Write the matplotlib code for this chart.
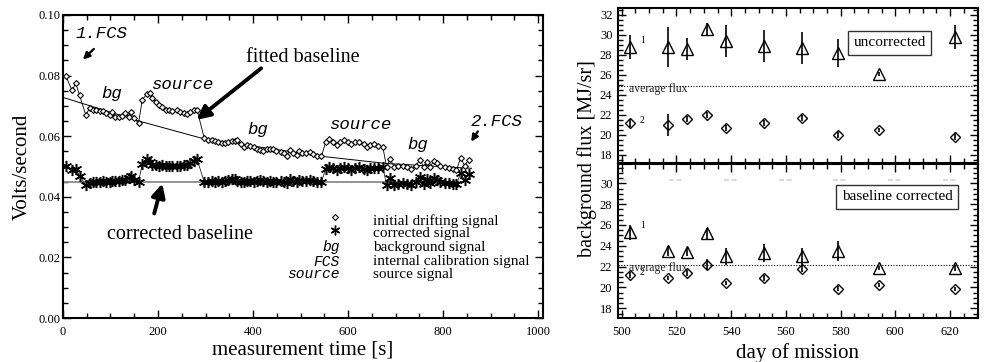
import numpy as np
import matplotlib.pyplot as plt
from matplotlib.ticker import MultipleLocator

plt.rcParams['font.family'] = 'Liberation Serif'

# ---- left panel: one measurement, drift correction ----
time_s = [6, 19, 27, 35, 48, 56, 63, 70, 77, 84, 91, 98, 104, 110, 117, 124, 131, 138, 143, 150,
          159, 167, 176, 183, 188, 195, 202, 209, 216, 223, 230, 240, 247, 254, 261, 268, 275, 282,
          297, 306, 313, 320, 327, 334, 341, 348, 355, 362, 367, 374, 381, 387, 394, 401, 408, 415,
          422, 429, 436, 442, 449, 458, 466, 471, 478, 485, 492, 497, 504, 511, 520, 527, 535, 544,
          553, 560, 569, 577, 584, 592, 599, 606, 615, 624, 633, 640, 647, 655, 664, 673,
          681, 688, 697, 705, 715, 724, 733, 742, 752, 759, 766, 773, 780, 787, 794, 803, 812, 820,
          828, 837, 845, 854]
initial_signal = [0.0799, 0.0751, 0.0774, 0.0735, 0.0670, 0.0692, 0.0688, 0.0686, 0.0683, 0.0684,
                  0.0676, 0.0670, 0.0681, 0.0665, 0.0663, 0.0667, 0.0676, 0.0665, 0.0681, 0.0659,
                  0.0643, 0.0721, 0.0738, 0.0742, 0.0727, 0.0713, 0.0702, 0.0697, 0.0688, 0.0686,
                  0.0684, 0.0688, 0.0681, 0.0676, 0.0673, 0.0681, 0.0686, 0.0688,
                  0.0595, 0.0589, 0.0587, 0.0584, 0.0581, 0.0576, 0.0579, 0.0581, 0.0584, 0.0584,
                  0.0589, 0.0573, 0.0566, 0.0570, 0.0568, 0.0563, 0.0559, 0.0555, 0.0552, 0.0557,
                  0.0559, 0.0557, 0.0552, 0.0548, 0.0544, 0.0534, 0.0555, 0.0544, 0.0538, 0.0552,
                  0.0546, 0.0544, 0.0548, 0.0541, 0.0535, 0.0534,
                  0.0581, 0.0592, 0.0581, 0.0570, 0.0581, 0.0589, 0.0581, 0.0573, 0.0581, 0.0581,
                  0.0575, 0.0565, 0.0571, 0.0573, 0.0568, 0.0565,
                  0.0498, 0.0525, 0.0500, 0.0503, 0.0503, 0.0498, 0.0493, 0.0503, 0.0522, 0.0498,
                  0.0514, 0.0500, 0.0517, 0.0511, 0.0503, 0.0498, 0.0496, 0.0493, 0.0489, 0.0528,
                  0.0503, 0.0522]
corrected_signal = [0.0503, 0.0490, 0.0493, 0.0470, 0.0439, 0.0447, 0.0450, 0.0448, 0.0450, 0.0452,
                    0.0450, 0.0449, 0.0453, 0.0451, 0.0452, 0.0455, 0.0457, 0.0462, 0.0470, 0.0455,
                    0.0450, 0.0509, 0.0525, 0.0515, 0.0506, 0.0505, 0.0503, 0.0504, 0.0502, 0.0503,
                    0.0501, 0.0503, 0.0502, 0.0504, 0.0506, 0.0510, 0.0517, 0.0525,
                    0.0450, 0.0448, 0.0451, 0.0449, 0.0452, 0.0450, 0.0453, 0.0455, 0.0460, 0.0458,
                    0.0452, 0.0449, 0.0450, 0.0452, 0.0451, 0.0449, 0.0453, 0.0455, 0.0452, 0.0450,
                    0.0453, 0.0449, 0.0448, 0.0452, 0.0450, 0.0446, 0.0458, 0.0451, 0.0449, 0.0456,
                    0.0452, 0.0451, 0.0454, 0.0452, 0.0449, 0.0450,
                    0.0492, 0.0498, 0.0494, 0.0489, 0.0495, 0.0500, 0.0495, 0.0490, 0.0496, 0.0497,
                    0.0493, 0.0487, 0.0494, 0.0496, 0.0495, 0.0498,
                    0.0440, 0.0462, 0.0440, 0.0443, 0.0446, 0.0442, 0.0440, 0.0449, 0.0466, 0.0443,
                    0.0459, 0.0446, 0.0462, 0.0457, 0.0450, 0.0446, 0.0445, 0.0443, 0.0441, 0.0478,
                    0.0455, 0.0476]
baseline_time = [0, 160, 295, 548, 680, 860]
baseline_fit = [0.0728, 0.0650, 0.0592, 0.0533, 0.0510, 0.0494]
corrected_level = 0.045
corrected_span = [0, 840]

# ---- right panels: background flux per day ----
day = [503, 517, 524, 531, 538, 552, 566, 579, 594, 622]
unc_tri = [28.8, 28.8, 28.6, 30.6, 29.4, 28.9, 28.7, 28.2, 26.1, 29.8]
unc_tri_err = [1.2, 2.0, 1.1, 0.6, 1.6, 1.6, 1.6, 1.4, 0.2, 1.2]
unc_dia = [21.2, 21.0, 21.6, 22.0, 20.7, 21.2, 21.7, 20.0, 20.5, 19.8]
unc_dia_err = [0.4, 1.1, 0.3, 0.3, 0.3, 0.3, 0.3, 0.3, 0.2, 0.3]
cor_tri = [25.3, 23.5, 23.4, 25.2, 23.0, 23.3, 23.0, 23.5, 21.9, 21.9]
cor_tri_err = [0.7, 0.5, 0.4, 0.5, 0.8, 0.9, 0.8, 1.0, 0.2, 0.3]
cor_dia = [21.2, 20.9, 21.4, 22.2, 20.4, 20.9, 21.8, 19.9, 20.2, 19.85]
cor_dia_err = [0.3, 0.2, 0.3, 0.5, 0.2, 0.3, 0.3, 0.2, 0.2, 0.2]
avg_unc = 24.9
avg_cor = 22.15

mono = dict(family='Liberation Mono', style='italic')


def style_axes(ax, pad_x, pad_y):
    ax.tick_params(which='both', direction='in', top=True, right=True, width=1.0)
    ax.tick_params(which='major', length=6)
    ax.tick_params(which='minor', length=3.5)
    ax.tick_params(axis='x', pad=pad_x, labelsize=9)
    ax.tick_params(axis='y', pad=pad_y, labelsize=9)
    for s in ax.spines.values():
        s.set_linewidth(1.5)


def arrow(ax, head, tail, lw, size):
    ax.annotate('', xy=head, xytext=tail,
                arrowprops=dict(arrowstyle='-|>', color='k', lw=lw, mutation_scale=size,
                                shrinkA=0, shrinkB=0))


fig = plt.figure(figsize=(9.9, 3.62), dpi=100)

# ===================== left =====================
ax = fig.add_axes([0.0636, 0.1215, 0.4848, 0.8371])
ax.plot(baseline_time, baseline_fit, color='k', lw=0.7)
ax.plot(corrected_span, [corrected_level, corrected_level], color='#8c8c8c', lw=1.3)
ax.plot(time_s, corrected_signal, color='k', lw=0.5, marker=(6, 2, 0), ms=8, mew=1.1)
ax.plot(time_s, initial_signal, color='k', lw=0.6, marker='D', ms=3, mfc='white', mew=0.8)

ax.set_xlim(0, 1010)
ax.set_ylim(0, 0.10)
ax.xaxis.set_major_locator(MultipleLocator(200))
ax.xaxis.set_minor_locator(MultipleLocator(50))
ax.yaxis.set_major_locator(MultipleLocator(0.02))
ax.yaxis.set_minor_locator(MultipleLocator(0.005))
ax.yaxis.set_major_formatter(plt.FormatStrFormatter('%.2f'))
style_axes(ax, 6, 2)
ax.set_xlabel('measurement time [s]', fontsize=15)
ax.set_ylabel('Volts/second', fontsize=15)
ax.xaxis.set_label_coords(0.5, -0.075)
ax.yaxis.set_label_coords(-0.066, 0.5)

# labels on the curves
ax.text(27, 0.094, '1.FCS', fontsize=12.5, va='center', **mono)
arrow(ax, (42, 0.0853), (65, 0.0888), 1.6, 10)
ax.text(858, 0.0648, '2.FCS', fontsize=12.5, va='center', **mono)
arrow(ax, (859, 0.0582), (873, 0.0616), 1.6, 10)
for tx, ty, s in [(102, 0.074, 'bg'), (410, 0.0622, 'bg'), (747, 0.0573, 'bg'),
                  (250, 0.0769, 'source'), (626, 0.0638, 'source')]:
    ax.text(tx, ty, s, fontsize=12.5, ha='center', va='center', **mono)

ax.text(385, 0.086, 'fitted baseline', fontsize=14.5, va='center')
arrow(ax, (281, 0.0654), (417, 0.0824), 2.8, 20)
ax.text(247, 0.0276, 'corrected baseline', fontsize=14.5, ha='center', va='center')
arrow(ax, (209, 0.0444), (192, 0.0345), 2.8, 20)

# hand-made legend
rows = [0.320, 0.279, 0.234, 0.186, 0.145]
ax.plot([0.567], [0.333], transform=ax.transAxes, marker='D', ms=3, mfc='white', mec='k', mew=0.8)
ax.plot([0.567], [0.292], transform=ax.transAxes, marker=(6, 2, 0), ms=7, mec='k', mew=1.0)
for r, s in zip(rows[2:], ['bg', 'FCS', 'source']):
    ax.text(0.577, r, s, transform=ax.transAxes, fontsize=10.5, ha='right', va='center', **mono)
for r, s in zip(rows, ['initial drifting signal', 'corrected signal', 'background signal',
                       'internal calibration signal', 'source signal']):
    ax.text(0.646, r, s, transform=ax.transAxes, fontsize=11, va='center')

# ===================== right =====================
axt = fig.add_axes([0.6242, 0.5497, 0.3636, 0.4282])
axb = fig.add_axes([0.6242, 0.1215, 0.3636, 0.4254])

panels = [(axt, unc_tri, unc_tri_err, unc_dia, unc_dia_err, avg_unc, 'uncorrected', (598, 29.2), (17.2, 32.67)),
          (axb, cor_tri, cor_tri_err, cor_dia, cor_dia_err, avg_cor, 'baseline corrected', (600.6, 28.7), (17.07, 31.85))]
for a, tri, tri_e, dia, dia_e, avg, box, boxpos, ylim in panels:
    a.errorbar(day, tri, yerr=tri_e, fmt='none', ecolor='k', elinewidth=1.2)
    a.errorbar(day, dia, yerr=dia_e, fmt='none', ecolor='k', elinewidth=1.2)
    a.plot(day, tri, ls='none', marker='^', ms=8, mfc='none', mec='k', mew=1.0)
    a.plot(day, dia, ls='none', marker='D', ms=5.5, mfc='none', mec='k', mew=1.0)
    a.axhline(avg, color='k', lw=0.8, ls=(0, (1, 1.5)))
    a.annotate('1', xy=(day[0], tri[0]), xytext=(7, 3), textcoords='offset points', fontsize=7)
    a.annotate('2', xy=(day[0], dia[0]), xytext=(7, 0), textcoords='offset points', fontsize=7)
    a.text(boxpos[0], boxpos[1], box, fontsize=11, ha='center', va='center',
           bbox=dict(boxstyle='square,pad=0.35', fc='white', ec='#333333', lw=1.0))
    a.set_xlim(498.6, 630.2)
    a.set_ylim(*ylim)
    a.xaxis.set_major_locator(MultipleLocator(20))
    a.xaxis.set_minor_locator(MultipleLocator(5))
    a.yaxis.set_major_locator(MultipleLocator(2))
    a.yaxis.set_minor_locator(MultipleLocator(0.5))
    style_axes(a, 6, 4)

axt.text(502.7, avg_unc - 0.35, 'average flux', fontsize=8.5, va='center', color='#222222')
axb.text(502.7, avg_cor - 0.25, 'average flux', fontsize=8.5, va='center', color='#222222')
axt.tick_params(axis='x', labelbottom=False)
axb.set_yticks([18, 20, 22, 24, 26, 28, 30])

# faint remains of the upper panel tick labels
for tk in range(500, 640, 20):
    axb.hlines(30.3, tk - 2.7, tk + 2.7, colors='#d4d4d4', lw=1.2, linestyles=(0, (3, 1.5)))

axb.set_xlabel('day of mission', fontsize=15)
axb.xaxis.set_label_coords(0.5, -0.16)
fig.text(0.593, 0.561, 'background flux [MJ/sr]', fontsize=14.5, rotation=90, ha='center', va='center')

fig.savefig('out.png', dpi=100)
